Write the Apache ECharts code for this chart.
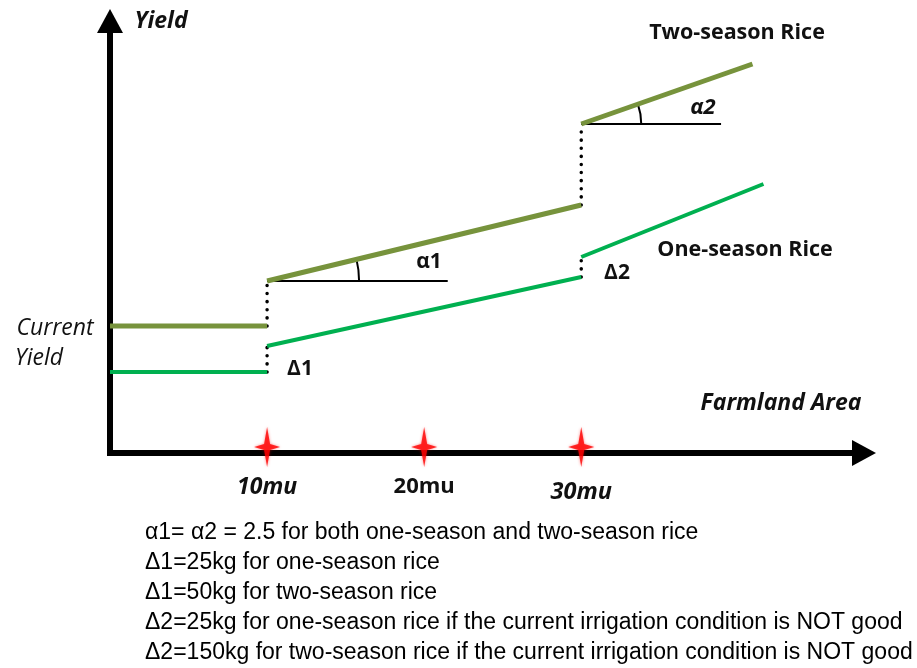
<!DOCTYPE html>
<html>
<head>
<meta charset="utf-8">
<script src="https://cdn.jsdelivr.net/npm/echarts@6/dist/echarts.min.js"></script>
<style>
  html, body { margin: 0; padding: 0; background: #fff; }
  #chart { width: 917px; height: 668px; }
</style>
</head>
<body>
<div id="chart"></div>
<script>
// Farmland area ticks (mu)
const tickValues = [10, 20, 30];
const tickLabels = ['10mu', '20mu', '30mu'];

// Yield pieces as [area, yield] pairs: current level, after 10 mu, after 30 mu
const twoSeasonPieces = [
  [[0, 127], [10, 127]],
  [[10, 172], [30, 248]],
  [[30, 329], [40.9, 389]]
];
const oneSeasonPieces = [
  [[0, 81], [10, 81]],
  [[10, 107], [30, 176]],
  [[30, 196], [41.6, 269]]
];

// Horizontal reference lines for the slope angles: [start area, yield, end area]
const angleRefs = [[10, 172, 21.5], [30, 329, 38.9]];

const noteLines = [
  'α1= α2 = 2.5 for both one-season and two-season rice',
  'Δ1=25kg for one-season rice',
  'Δ1=50kg for two-season rice',
  'Δ2=25kg for one-season rice if the current irrigation condition is NOT good',
  'Δ2=150kg for two-season rice if the current irrigation condition is NOT good'
];

const OLIVE = '#77933C';
const GREEN = '#00B050';
const LABEL_FONT = '"Open Sans", "Noto Sans", sans-serif';

const chart = echarts.init(document.getElementById('chart'));

const series = [];

function addPieces(pieces, color, width, name) {
  pieces.forEach(function (piece, i) {
    series.push({
      type: 'line', name: name, data: piece, symbol: 'none', silent: true,
      lineStyle: { color: color, width: width, cap: 'butt' }, z: 3
    });
    // dotted jump to the next piece
    if (i < pieces.length - 1) {
      series.push({
        type: 'line', data: [piece[1], pieces[i + 1][0]], symbol: 'none', silent: true,
        lineStyle: { color: '#000', width: 3.5, type: [0.1, 8], cap: 'round' }, z: 2
      });
    }
  });
}
addPieces(twoSeasonPieces, OLIVE, 5, 'Two-season Rice');
addPieces(oneSeasonPieces, GREEN, 4, 'One-season Rice');

// horizontal reference lines for the angles
angleRefs.forEach(function (r) {
  series.push({
    type: 'line', data: [[r[0], r[1]], [r[2], r[1]]], symbol: 'none', silent: true,
    lineStyle: { color: '#000', width: 2 }, z: 2
  });
});

// angle arcs between the reference line and the two-season slope
const arcRadius = [92, 60];
series.push({
  type: 'custom', silent: true, clip: false, z: 2,
  data: twoSeasonPieces.slice(1).map(function (p) { return [p[0][0], p[0][1], p[1][0], p[1][1]]; }),
  renderItem: function (params, api) {
    const p0 = api.coord([api.value(0), api.value(1)]);
    const p1 = api.coord([api.value(2), api.value(3)]);
    const ang = Math.atan2(p1[1] - p0[1], p1[0] - p0[0]);
    return {
      type: 'arc',
      shape: { cx: p0[0], cy: p0[1], r: arcRadius[params.dataIndex], startAngle: ang, endAngle: 0, clockwise: true },
      style: { stroke: '#000', lineWidth: 2, fill: null }
    };
  }
});

// red star markers on the area axis
series.push({
  type: 'scatter', silent: true, z: 6,
  data: tickValues.map(function (v) { return [v, 0]; }),
  symbol: 'path://M13,0 L16,17 L26,20 L16,23 L13,40 L10,23 L0,20 L10,17 Z',
  symbolSize: [26, 40], symbolOffset: [0, -6],
  itemStyle: { color: '#FF0000', shadowBlur: 3, shadowColor: 'rgba(255,0,0,0.6)' }
});

function text(str, x, y, font, extra) {
  return Object.assign({
    type: 'text', x: x, y: y, silent: true,
    style: { text: str, font: font, fill: '#111', align: 'center', verticalAlign: 'middle' }
  }, extra || {});
}

const graphics = [
  text('Yield', 161, 21, 'italic bold 23px ' + LABEL_FONT),
  text('Current', 55, 328, 'italic 23px ' + LABEL_FONT),
  text('Yield', 39, 358, 'italic 23px ' + LABEL_FONT),
  text('Two-season Rice', 737, 33, 'bold 21.5px ' + LABEL_FONT),
  text('One-season Rice', 745, 250, 'bold 21.5px ' + LABEL_FONT),
  text('α1', 429, 262, 'bold 21px ' + LABEL_FONT),
  text('α2', 703, 108, 'italic bold 22px ' + LABEL_FONT),
  text('Δ1', 300, 369, 'bold 21px ' + LABEL_FONT),
  text('Δ2', 617, 273, 'bold 21px ' + LABEL_FONT),
  text('Farmland Area', 781, 403, 'italic bold 23px ' + LABEL_FONT)
];
noteLines.forEach(function (line, i) {
  graphics.push({
    type: 'text', x: 145, y: 533 + i * 30, silent: true,
    style: {
      text: line, font: '23px "Liberation Sans Narrow", "Liberation Sans", sans-serif',
      fill: '#000', align: 'left', verticalAlign: 'middle'
    }
  });
});

chart.setOption({
  animation: false,
  backgroundColor: '#fff',
  grid: { left: 110, right: 53, top: 21, bottom: 215, containLabel: false },
  xAxis: {
    type: 'value', min: 0, max: 48, interval: 10,
    axisLine: {
      show: true, symbol: ['none', 'triangle'], symbolSize: [26, 24],
      lineStyle: { color: '#000', width: 6, cap: 'square' }
    },
    axisTick: { show: false },
    splitLine: { show: false },
    axisLabel: {
      margin: 23, color: '#111',
      showMinLabel: true, showMaxLabel: false,
      formatter: function (v) {
        const i = tickValues.indexOf(v);
        if (i < 0) return '';
        return (i === 1 ? '{u|' : (i === 2 ? '{d|' : '{i|')) + tickLabels[i] + '}';
      },
      rich: {
        i: { fontFamily: LABEL_FONT, fontSize: 23, fontWeight: 'bold', fontStyle: 'italic', color: '#111' },
        u: { fontFamily: LABEL_FONT, fontSize: 22, fontWeight: 'bold', color: '#111' },
        d: { fontFamily: LABEL_FONT, fontSize: 23.5, fontWeight: 'bold', fontStyle: 'italic', color: '#111', padding: [5, 0, 0, 0] }
      }
    }
  },
  yAxis: {
    type: 'value', min: 0, max: 432,
    axisLine: {
      show: true, symbol: ['none', 'triangle'], symbolSize: [26, 24],
      lineStyle: { color: '#000', width: 6, cap: 'square' }
    },
    axisTick: { show: false },
    splitLine: { show: false },
    axisLabel: { show: false }
  },
  series: series,
  graphic: graphics
});
</script>
</body>
</html>
